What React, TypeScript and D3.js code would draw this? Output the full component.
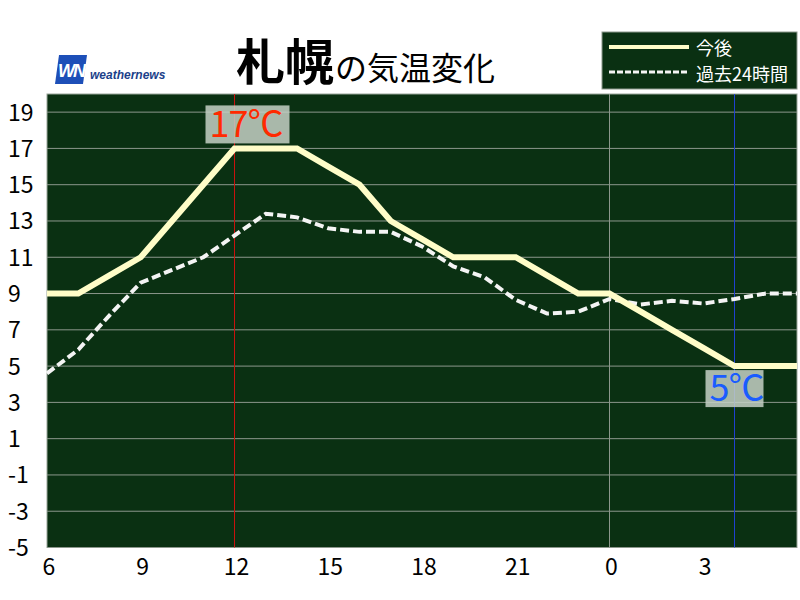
import React from "react";
import * as d3 from "d3";

// hourly values, 6:00 today through 6:00 tomorrow
const forecast = [9, 9, 10, 11, 13, 15, 17, 17, 17, 16, 15, 13, 12, 11, 11, 11, 10, 9, 9, 8, 7, 6, 5, 5, 5];
const past24h = [4.6, 5.9, 7.8, 9.6, 10.3, 11.0, 12.2, 13.4, 13.2, 12.6, 12.4, 12.4, 11.6, 10.5, 9.9, 8.65, 7.9, 8.0, 8.7, 8.4, 8.6, 8.45, 8.7, 9.0, 9.0];
const xTickHours = [6, 9, 12, 15, 18, 21, 0, 3];
const yTicks = [19, 17, 15, 13, 11, 9, 7, 5, 3, 1, -1, -3, -5];
const maxLabel = "17℃";
const minLabel = "5℃";
const maxIndex = 6;
const minIndex = 22;
const midnightIndex = 18;

const W = 800;
const H = 600;
const left = 47;
const right = 797;
const top = 94;
const bottom = 547.5;

const App: React.FC = () => {
	const x = d3.scaleLinear().domain([0, 24]).range([left, right]);
	const y = d3.scaleLinear().domain([-5, 20]).range([bottom, top]);
	const line = d3
		.line<number>()
		.x((_, i) => x(i))
		.y((d) => y(d));

	const font = "'Noto Sans CJK JP', 'Noto Sans', sans-serif";

	return (
		<svg width={W} height={H} style={{ position: "absolute", left: 0, top: 0 }}>
			<rect width={W} height={H} fill="#fff" />
			{/* logo */}
			<g transform="translate(55,55)">
				<polygon points="4,0 32,0 28,29 0,29" fill="#1d4fb8" />
				<text x={16} y={22} fill="#fff" fontSize={18} fontWeight="bold" fontStyle="italic" textAnchor="middle" fontFamily="Arial, 'Liberation Sans', sans-serif" letterSpacing={-2}>
					WN
				</text>
				<text x={35} y={24} fill="#1b3f8a" fontSize={12} fontWeight="bold" fontStyle="italic" fontFamily="Arial, 'Liberation Sans', sans-serif">
					weathernews
				</text>
			</g>
			{/* title */}
			<text x={236} y={80} fontFamily={font} fill="#000">
				<tspan fontSize={49} fontWeight="bold">札幌</tspan>
				<tspan fontSize={32} dx={1}>の気温変化</tspan>
			</text>

			{/* plot area */}
			<rect x={left} y={top} width={right - left} height={bottom - top} fill="#0a3012" stroke="#9aa59a" strokeWidth={1} />
			{yTicks.map((t) => (
				<line key={t} x1={left} x2={right} y1={y(t)} y2={y(t)} stroke="#8c978c" strokeWidth={1} />
			))}
			<line x1={x(midnightIndex)} x2={x(midnightIndex)} y1={top} y2={bottom} stroke="#8c978c" strokeWidth={1} />
			<line x1={x(maxIndex)} x2={x(maxIndex)} y1={top} y2={bottom} stroke="#c8120e" strokeWidth={1} />
			<line x1={x(minIndex)} x2={x(minIndex)} y1={top} y2={bottom} stroke="#2040d0" strokeWidth={1} />

			<path d={line(past24h) || ""} fill="none" stroke="#f4f4f4" strokeWidth={4} strokeDasharray="9,4" />
			<path d={line(forecast) || ""} fill="none" stroke="#fffdc8" strokeWidth={6} strokeLinejoin="miter" />

			{/* max / min labels */}
			<g transform={`translate(${x(maxIndex) - 29},${y(forecast[maxIndex]) - 43})`}>
				<rect width={84} height={38} fill="#c5d0c5" fillOpacity={0.85} />
				<text x={4} y={32} fontSize={36} fill="#ff2a00" fontFamily={font} letterSpacing={-1}>{maxLabel}</text>
			</g>
			<g transform={`translate(${x(minIndex) - 29},${y(forecast[minIndex]) + 4})`}>
				<rect width={58} height={37} fill="#c5d0c5" fillOpacity={0.85} />
				<text x={4} y={31} fontSize={36} fill="#1a5cff" fontFamily={font} letterSpacing={-1}>{minLabel}</text>
			</g>

			{/* axes labels */}
			{yTicks.map((t) => (
				<text key={t} x={8} y={y(t) + 8.5} fontSize={23} fill="#000" fontFamily={font}>
					{t}
				</text>
			))}
			{xTickHours.map((h, i) => (
				<text key={h} x={x(i * 3) + 2} y={575} fontSize={23} fill="#000" textAnchor="middle" fontFamily={font}>
					{h}
				</text>
			))}

			{/* legend */}
			<rect x={602} y={32} width={195} height={57} fill="#0a3012" stroke="#8c978c" strokeWidth={1} />
			<line x1={609} x2={689} y1={47} y2={47} stroke="#fffdc8" strokeWidth={4} />
			<line x1={609} x2={689} y1={72} y2={72} stroke="#f4f4f4" strokeWidth={3} strokeDasharray="6,2" />
			<text x={696} y={55} fontSize={18} fill="#fff" fontFamily={font}>今後</text>
			<text x={696} y={81} fontSize={18} fill="#fff" fontFamily={font}>過去24時間</text>
		</svg>
	);
};

export default App;
